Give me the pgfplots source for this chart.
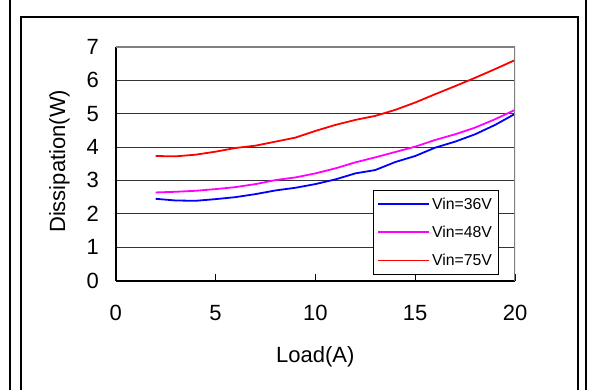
\documentclass[border=0pt]{standalone}
\usepackage{fontspec}
\setmainfont{Liberation Sans}
\usepackage{pgfplots}
\pgfplotsset{compat=1.18}
\definecolor{vinA}{RGB}{0,0,255}
\definecolor{vinB}{RGB}{255,0,255}
\definecolor{vinC}{RGB}{255,0,0}
\begin{document}
\begin{tikzpicture}
\useasboundingbox (0bp,0bp) rectangle (591bp,-390bp);
% page frame lines
\draw[line width=2.5bp] (10bp,2bp) -- (10bp,-392bp);
\draw[line width=2.5bp] (586bp,2bp) -- (586bp,-392bp);
\draw[line width=1.2bp] (21bp,-395bp) -- (21bp,-17bp) -- (578bp,-17bp) -- (578bp,-395bp);
\begin{axis}[
  at={(115.7bp,-280.7bp)}, anchor=south west,
  scale only axis, width=399.3bp, height=234bp,
  xmin=0, xmax=20, ymin=0, ymax=7,
  axis lines*=left,
  axis line style={black, line width=1.6bp},
  xtick={0,5,10,15,20}, ytick={0,1,...,7},
  tick align=inside, major tick length=7bp,
  xtick style={black, line width=0.8bp},
  ytick style={draw=none},
  ymajorgrids, grid style={black!80, line width=0.9bp},
  tick label style={font=\fontsize{22bp}{26bp}\selectfont, inner sep=0pt},
  /pgf/number format/assume math mode=true,
  xticklabel style={anchor=center, yshift=-32.6bp},
  yticklabel style={anchor=east, xshift=-16.7bp},
  xlabel={Load(A)}, ylabel={Dissipation(W)},
  label style={font=\fontsize{22bp}{26bp}\selectfont, inner sep=0pt},
  xlabel style={at={(axis description cs:0.5,-0.326)}, anchor=center},
  ylabel style={at={(axis description cs:-0.141,0.51)}, anchor=center},
  legend style={at={(rel axis cs:0.6444,0.3876)}, anchor=north west,
    draw=black, fill=white,
    font=\fontsize{15.8bp}{18bp}\selectfont,
    inner xsep=4bp, inner ysep=5.5bp, row sep=11.2bp, column sep=0bp},
  legend cell align=left,
  legend image code/.code={\draw[#1] plot coordinates {(0bp,0bp) (51bp,0bp)};},
]
\addplot[vinA, line width=1.8bp] coordinates {
(2,2.45) (3,2.40) (4,2.39) (5,2.44) (6,2.50) (7,2.59) (8,2.70) (9,2.78)
(10,2.89) (11,3.03) (12,3.21) (13,3.31) (14,3.55) (15,3.73) (16,3.98)
(17,4.16) (18,4.38) (19,4.66) (20,4.99)};
\addlegendentry{Vin=36V}
\addplot[vinB, line width=1.8bp] coordinates {
(2,2.64) (3,2.66) (4,2.69) (5,2.74) (6,2.80) (7,2.89) (8,3.01) (9,3.09)
(10,3.21) (11,3.36) (12,3.54) (13,3.69) (14,3.85) (15,4.01) (16,4.21)
(17,4.38) (18,4.58) (19,4.83) (20,5.11)};
\addlegendentry{Vin=48V}
\addplot[vinC, line width=1.8bp] coordinates {
(2,3.73) (3,3.72) (4,3.77) (5,3.86) (6,3.97) (7,4.04) (8,4.16) (9,4.28)
(10,4.48) (11,4.66) (12,4.81) (13,4.93) (14,5.11) (15,5.33) (16,5.58)
(17,5.82) (18,6.07) (19,6.33) (20,6.60)};
\addlegendentry{Vin=75V}
\draw[gray, line width=2bp] (rel axis cs:0,1) -- (rel axis cs:1,1) -- (rel axis cs:1,0);
\end{axis}
\end{tikzpicture}
\end{document}
